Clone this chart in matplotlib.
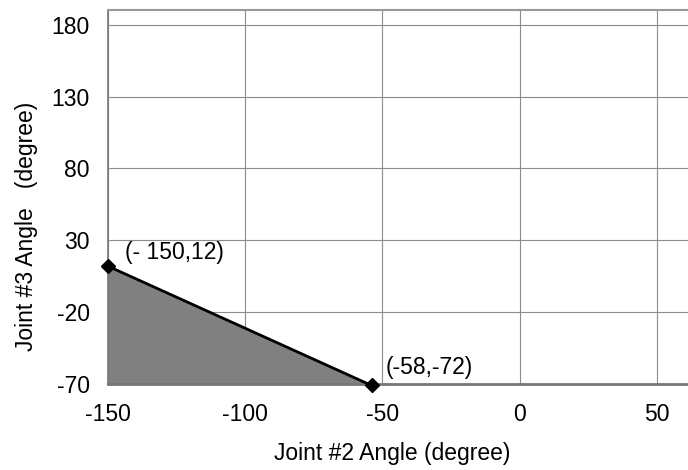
import matplotlib
matplotlib.use("Agg")
import matplotlib.pyplot as plt

joint2 = [-150, -54]
joint3 = [12, -71]
labels = ["(- 150,12)", "(-58,-72)"]
xticks = [-150, -100, -50, 0, 50]
yticks = [-70, -20, 30, 80, 130, 180]

plt.rcParams['font.family'] = ['Liberation Sans', 'DejaVu Sans']
plt.rcParams['axes.unicode_minus'] = False

fig = plt.figure(figsize=(6.88, 4.70), dpi=100)
ax = fig.add_axes([0.157, 0.183, 0.843, 0.796])
ax.set_xlim(-150, 61.3)
ax.set_ylim(-70, 190.4)

ax.fill_between(joint2, joint3, -70, color='#808080', zorder=2, linewidth=0)
ax.plot(joint2, joint3, color='black', lw=2, marker='D', markersize=7,
        zorder=4, clip_on=False)

ax.annotate(labels[0], (joint2[0], joint3[0]), xytext=(12, 10),
            textcoords='offset points', fontsize=16.5, va='center', ha='left',
            annotation_clip=False)
ax.annotate(labels[1], (joint2[1], joint3[1]), xytext=(10, 13),
            textcoords='offset points', fontsize=16.5, va='center', ha='left',
            annotation_clip=False)

ax.set_xticks(xticks)
ax.set_yticks(yticks)
ax.tick_params(labelsize=16.5, length=0)
ax.tick_params(axis='x', pad=14)
ax.tick_params(axis='y', pad=13)
ax.grid(True, color='#8c8c8c', lw=0.8, zorder=1)
ax.set_axisbelow(True)
ax.spines['right'].set_visible(False)
ax.spines['top'].set_color('#999999')
ax.spines['top'].set_linewidth(1.5)
ax.spines['left'].set_color('#777777')
ax.spines['left'].set_linewidth(1.2)
ax.spines['bottom'].set_color('#777777')
ax.spines['bottom'].set_linewidth(2)

ax.set_xlabel("Joint #2 Angle (degree)", fontsize=16.5)
ax.xaxis.set_label_coords(0.49, -0.155)
ax.set_ylabel("Joint #3 Angle   (degree)", fontsize=16.5)
ax.yaxis.set_label_coords(-0.12, 0.42)

fig.savefig("out.png", dpi=100)
